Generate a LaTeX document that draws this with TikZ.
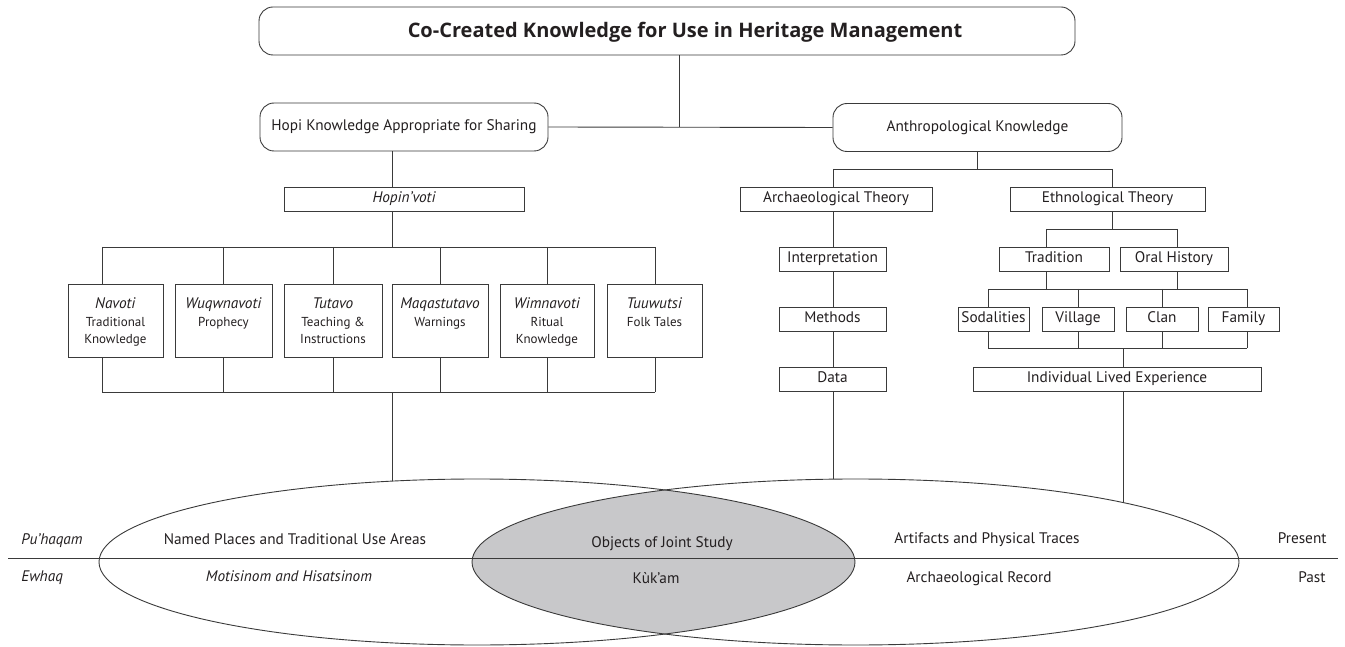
\documentclass[tikz,border=0pt]{standalone}
\usepackage{fontspec}
\setmainfont{PT Sans}
\newfontfamily\titlefont{Open Sans}
\usepackage{xcolor}

\definecolor{linegray}{HTML}{3A3A3A}
\definecolor{inkgray}{HTML}{231F20}
\definecolor{lensgray}{HTML}{C8C8CA}

\begin{document}
\begin{tikzpicture}[x=1pt, y=-1pt, line width=0.9pt, draw=linegray, text=inkgray]
\tikzset{box/.style = {draw, inner sep=0pt, minimum height=24pt, text height=10.5pt, text depth=3pt, font=\fontsize{15.3}{17}\selectfont}}
\tikzset{roundbox/.style = {box, rounded corners=14pt, minimum height=48pt}}
\tikzset{tallbox/.style = {draw, inner sep=0pt, minimum height=73pt}}
\tikzset{boxtext/.style = {anchor=north, align=center, inner sep=0pt, yshift=-14pt, font=\fontsize{15.3}{17}\selectfont}}
\tikzset{label/.style = {inner sep=0pt, font=\fontsize{15.3}{17}\selectfont, text height=10.5pt, text depth=4pt}}

\useasboundingbox (0,0) rectangle (1345,647);

% top level
\node[roundbox, minimum width=816pt] (T) at (667,31) {};
\node[inner sep=0pt, font=\titlefont\fontsize{20}{23}\selectfont\bfseries] (Ttext) at (685,32) {Co-Created Knowledge for Use in Heritage Management};
\node[roundbox, minimum width=288pt] (H) at (404,127) {Hopi Knowledge Appropriate for Sharing};
\node[roundbox, minimum width=289pt] (A) at (977.5,127.5) {Anthropological Knowledge};

\coordinate (tsplit) at (679,127);
\draw (T.south -| tsplit) -- (tsplit);
\draw (H.east) -- (A.west);

% hopi side
\node[box, minimum width=240pt] (HV) at (404,199) {\itshape Hopin’voti};

\coordinate (b1) at (102,247);
\coordinate (b2) at (223,247);
\coordinate (b3) at (333,247);
\coordinate (hvtop) at (392,247);
\coordinate (b4) at (440,247);
\coordinate (b5) at (547,247);
\coordinate (b6) at (655,247);
\coordinate (c1) at (102,392);
\coordinate (c2) at (223,392);
\coordinate (c3) at (333,392);
\coordinate (hvbot) at (392,392);
\coordinate (c4) at (440,392);
\coordinate (c5) at (547,392);
\coordinate (c6) at (655,392);
\coordinate (hvend) at (392,481);

\draw (H.south -| hvtop) -- (HV.north -| hvtop);
\draw (HV.south -| hvtop) -- (hvtop);
\draw (b1) -- (b6);
\draw (c1) -- (c6);
\draw (hvbot) -- (hvend);

\node[tallbox, minimum width=95pt] (nav) at (115.5,320.5) {};
\node[tallbox, minimum width=97pt] (wuq) at (223.5,320.5) {};
\node[tallbox, minimum width=98pt] (tut) at (333,320.5) {};
\node[tallbox, minimum width=96pt] (maq) at (440,320.5) {};
\node[tallbox, minimum width=94pt] (wim) at (547,320.5) {};
\node[tallbox, minimum width=95pt] (tuu) at (654.5,320.5) {};

\node[boxtext] at (nav.north) {\textit{Navoti}\\[1pt]\fontsize{13}{16}\selectfont Traditional\\\fontsize{13}{16}\selectfont Knowledge};
\node[boxtext] at (wuq.north) {\textit{Wuqwnavoti}\\[1pt]\fontsize{13}{16}\selectfont Prophecy};
\node[boxtext] at (tut.north) {\textit{Tutavo}\\[1pt]\fontsize{13}{16}\selectfont Teaching \&\\\fontsize{13}{16}\selectfont Instructions};
\node[boxtext] at (maq.north) {\textit{Maqastutavo}\\[1pt]\fontsize{13}{16}\selectfont Warnings};
\node[boxtext] at (wim.north) {\textit{Wimnavoti}\\[1pt]\fontsize{13}{16}\selectfont Ritual\\\fontsize{13}{16}\selectfont Knowledge};
\node[boxtext] at (tuu.north) {\textit{Tuuwutsi}\\[1pt]\fontsize{13}{16}\selectfont Folk Tales};

\draw (b1) -- (nav.north -| b1) (nav.south -| b1) -- (c1);
\draw (b2) -- (wuq.north -| b2) (wuq.south -| b2) -- (c2);
\draw (b3) -- (tut.north -| b3) (tut.south -| b3) -- (c3);
\draw (b4) -- (maq.north -| b4) (maq.south -| b4) -- (c4);
\draw (b5) -- (wim.north -| b5) (wim.south -| b5) -- (c5);
\draw (b6) -- (tuu.north -| b6) (tuu.south -| b6) -- (c6);

% anthropology side
\coordinate (asplit) at (977,169);
\coordinate (abar1) at (833,169);
\coordinate (abar2) at (1112,169);
\draw (A.south -| asplit) -- (asplit);
\draw (abar1) -- (abar2);

\node[box, minimum width=192pt] (AT) at (836,199) {Archaeological Theory};
\node[box, minimum width=195pt] (ET) at (1107.5,199) {Ethnological Theory};
\draw (abar1) -- (AT.north -| abar1);
\draw (abar2) -- (ET.north -| abar2);

\node[box, minimum width=107pt] (IN) at (832.5,259) {Interpretation};
\node[box, minimum width=107pt] (ME) at (832.5,319) {Methods};
\node[box, minimum width=107pt] (DA) at (832.5,379) {Data};
\coordinate (daend) at (833,479);
\draw (AT.south -| abar1) -- (IN.north -| abar1) (IN.south -| abar1) -- (ME.north -| abar1)
      (ME.south -| abar1) -- (DA.north -| abar1) (DA.south -| abar1) -- (daend);

\coordinate (esplit) at (1112,229);
\coordinate (tr) at (1046,229);
\coordinate (oh) at (1177,229);
\draw (ET.south -| esplit) -- (esplit);
\draw (tr) -- (oh);

\node[box, minimum width=110pt] (TR) at (1054,259) {Tradition};
\node[box, minimum width=108pt] (OH) at (1174,259) {Oral History};
\draw (tr) -- (TR.north -| tr);
\draw (oh) -- (OH.north -| oh);

\coordinate (g1) at (988,289);
\coordinate (g2) at (1078,289);
\coordinate (g3) at (1162,289);
\coordinate (g4) at (1247,289);
\coordinate (k1) at (988,348);
\coordinate (k2) at (1078,348);
\coordinate (ksplit) at (1123,348);
\coordinate (k3) at (1162,348);
\coordinate (k4) at (1247,348);
\draw (TR.south -| tr) -- (tr |- g1) (OH.south -| oh) -- (oh |- g1);
\draw (g1) -- (g4);
\draw (k1) -- (k4);

\node[box, minimum width=71pt] (SO) at (993.5,319) {Sodalities};
\node[box, minimum width=72pt] (VI) at (1078,319) {Village};
\node[box, minimum width=72pt] (CL) at (1162,319) {Clan};
\node[box, minimum width=71pt] (FA) at (1243.5,319) {Family};

\draw (g1) -- (SO.north -| g1) (SO.south -| k1) -- (k1);
\draw (g2) -- (VI.north -| g2) (VI.south -| k2) -- (k2);
\draw (g3) -- (CL.north -| g3) (CL.south -| k3) -- (k3);
\draw (g4) -- (FA.north -| g4) (FA.south -| k4) -- (k4);

\node[box, minimum width=288pt] (IL) at (1117,379) {Individual Lived Experience};
\coordinate (ilend) at (1123,502.5);
\draw (ksplit) -- (IL.north -| ksplit) (IL.south -| ksplit) -- (ilend);

% ellipses
\begin{scope}
\clip (477,562) ellipse [x radius=378pt, y radius=83pt];
\fill[lensgray] (855.5,562) ellipse [x radius=383.5pt, y radius=83pt];
\end{scope}
\draw (477,562) ellipse [x radius=378pt, y radius=83pt];
\draw (855.5,562) ellipse [x radius=383.5pt, y radius=83pt];

\coordinate (westend) at (8,558);
\coordinate (eastend) at (1338,558);
\draw (westend) -- (eastend);

\node[label, anchor=west] (ph) at (21,541) {\itshape Pu’haqam};
\node[label, anchor=west] (ew) at (21,578) {\itshape Ewhaq};
\node[label] (np) at (295,541) {Named Places and Traditional Use Areas};
\node[label] (mh) at (289,578) {\itshape Motisinom and Hisatsinom};
\node[label] (oj) at (662,544) {Objects of Joint Study};
\node[label] (kk) at (656,580) {Kùk’am};
\node[label] (ap) at (987,540) {Artifacts and Physical Traces};
\node[label] (ar) at (979,579) {Archaeological Record};
\node[label, anchor=east] (pr) at (1327,540) {Present};
\node[label, anchor=east] (pa) at (1326,579) {Past};

\end{tikzpicture}
\end{document}
